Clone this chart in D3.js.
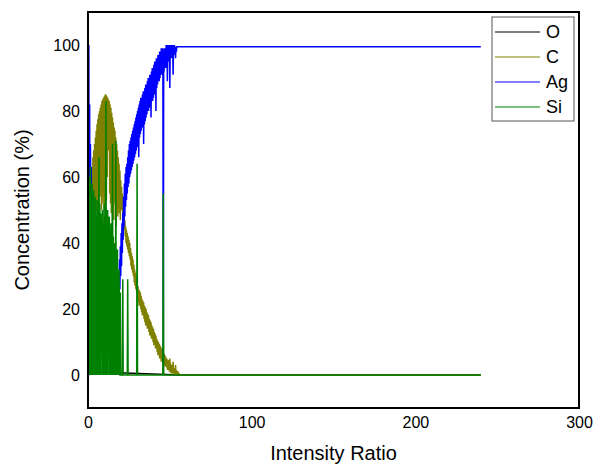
<!DOCTYPE html>
<html>
<head>
<meta charset="utf-8">
<script src="https://cdn.jsdelivr.net/npm/d3@7"></script>
<style>
  body { margin: 0; background: #fff; }
  text { font-family: "Liberation Sans", Arial, sans-serif; }
</style>
</head>
<body>
<div id="chart"></div>
<script>
// Profile values are sampled every `step` along the intensity ratio
// (x = startX + i * step); after its last sample each trace runs flat to `endX`.
const startX = 0.5;
const step = 0.25;
const endX = 240;

const seriesNames = ["O", "C", "Ag", "Si"];
const seriesColors = ["#000000", "#808000", "#0000ff", "#008000"];

const oX = [0.5, 1, 1.5, 56, 240];
const oValues = [2, 0, 1, 0, 0];

const cValues = [
  30, 12, 48, 30, 57, 40, 61, 45, 63, 48,
  66, 50, 68, 47, 70, 52, 72, 49, 74, 53,
  76, 50, 77.5, 55, 79, 51, 80, 54, 81, 56,
  82, 50, 83, 57, 83.5, 52, 84, 55, 84.5, 50,
  85, 58, 85, 53, 84.5, 60, 84, 70, 83.5, 68,
  83, 55, 82, 52, 81, 49, 79.5, 56, 78, 50,
  76.5, 47, 75, 66, 74, 52, 72, 45, 70, 50,
  68, 48, 66, 52, 64, 49, 62, 47, 59, 50,
  57, 50, 55, 48, 52.5, 46, 50, 44, 47, 42,
  45, 40, 44, 39, 43, 38, 42, 37, 41, 36,
  40, 35, 38.5, 33, 37, 32, 36, 31, 35, 30,
  33.5, 28, 32, 27, 31, 26, 30, 25, 28.5, 24,
  27, 22, 26, 21, 25.5, 21, 25, 20, 24, 19,
  23, 18, 22.5, 18, 22, 17, 21, 16, 20.5, 15,
  20, 15, 19, 14, 18.5, 14, 18, 13, 17, 12,
  16.5, 12, 16, 11, 15, 11, 14.5, 10, 14, 9,
  13, 9, 12.5, 8, 12, 8, 11, 7, 10.5, 6,
  10, 6, 9.5, 5, 9, 5, 8.5, 4, 8, 4,
  7.5, 3.5, 7, 3.5, 6.5, 3, 6, 2.5, 5.5, 2.5,
  5, 2, 4.8, 1.5, 4.5, 1.5, 4, 1, 5, 1,
  3.5, 0.5, 3, 0.5, 2.8, 0.5, 4, 0.5, 2, 0,
  2, 0, 3, 0, 1.5, 0, 1.2, 0, 1, 0,
  0.6, 0, 0.2, 0, 0
];

const agValues = [
  100, 30, 82, 24, 70, 40, 63, 20, 55, 30,
  45, 15, 35, 10, 25, 8, 22, 12, 18, 6,
  20, 10, 15, 5, 18, 8, 14, 20, 6, 12,
  8, 18, 10, 22, 7, 16, 12, 20, 9, 14,
  18, 10, 24, 12, 16, 20, 9, 18, 13, 22,
  16, 19, 24, 14, 20, 16, 22, 26, 15, 24,
  18, 22, 26, 17, 28, 20, 24, 18, 22, 26,
  15, 27, 19, 31, 22, 35, 26, 39, 30, 43,
  33, 46, 37, 49, 41, 54, 45, 58, 48, 61,
  51, 63, 53, 64, 55, 66, 57, 68, 58, 70,
  60, 71, 61, 72, 62, 73, 63, 74, 64, 75,
  65, 76, 66, 77, 67, 78, 68, 79, 69, 80,
  70, 81, 66, 82, 72, 83, 73, 84, 74, 84,
  75, 85, 75, 86, 70, 86, 76, 87, 77, 88,
  78, 88, 79, 89, 80, 90, 80, 90, 81, 91,
  82, 91, 78, 92, 83, 93, 83, 93, 84, 94,
  85, 95, 86, 95, 80, 96, 87, 96, 88, 97,
  89, 97, 89, 98, 90, 98, 91, 99, 91, 99,
  92, 99, 0, 98, 92, 99, 93, 99, 93, 100,
  94, 100, 89, 100, 95, 100, 95, 100, 87, 100,
  96, 100, 96, 100, 97, 100, 91, 99.5, 97, 100,
  97, 99.5, 96, 99.5, 98, 99.5, 99.5, 99.5, 99.5, 99.5,
  99.5, 99.5, 99.5, 99.5, 99.5
];

const siValues = [
  57, 0, 60, 0, 63, 0, 55, 0, 58, 0,
  52, 0, 56, 0, 50, 0, 54, 0, 48, 0,
  53, 0, 50, 0, 47, 66, 0, 52, 0, 49,
  40, 45, 0, 50, 0, 46, 0, 52, 0, 48,
  0, 55, 83, 0, 47, 0, 50, 38, 45, 0,
  48, 0, 44, 0, 46, 40, 0, 45, 70, 0,
  42, 0, 40, 0, 38, 0, 71, 0, 36, 0,
  38, 0, 30, 0, 32, 0, 0, 25, 0, 0,
  0, 0, 0, 29, 0, 0, 0, 0, 0, 0,
  0, 0, 0, 0, 0, 29, 0, 0, 0, 0,
  0, 0, 0, 0, 0, 0, 0, 0, 0, 0,
  0, 0, 0, 0, 0, 0, 0, 0, 64, 0,
  0, 0, 0, 0, 0, 0, 0, 0, 0, 0,
  0, 0, 0, 0, 0, 0, 0, 0, 0, 0,
  0, 0, 0, 0, 0, 0, 0, 0, 0, 0,
  0, 0, 0, 0, 0, 0, 0, 0, 0, 0,
  0, 0, 0, 0, 0, 0, 0, 0, 0, 0,
  0, 0, 0, 0, 0, 0, 0, 0, 0, 0,
  0, 0, 55, 0, 0, 0, 0, 0, 0, 0
];

const xTicks = [0, 100, 200, 300];
const yTicks = [0, 20, 40, 60, 80, 100];

// sampled profile -> [x, y] points, with the flat tail out to endX
function profile(values) {
  let pts = values.map((v, i) => [startX + i * step, v]);
  pts.push([endX, values[values.length - 1]]);
  return pts;
}

const traces = [
  oX.map((x, i) => [x, oValues[i]]),
  profile(cValues),
  profile(agValues),
  profile(siValues)
];

const W = 594, H = 466;
const margin = { top: 12, right: 15, bottom: 58, left: 88 };
const width = W - margin.left - margin.right;
const height = H - margin.top - margin.bottom;

const svg = d3.select("#chart").append("svg")
  .attr("width", W)
  .attr("height", H);

const g = svg.append("g")
  .attr("transform", "translate(" + margin.left + "," + margin.top + ")");

const x = d3.scaleLinear().domain([0, 300]).range([0, width]);
const y = d3.scaleLinear().domain([-10, 110]).range([height, 0]);

// clip so traces stay inside the frame
g.append("clipPath").attr("id", "plotclip")
  .append("rect").attr("width", width).attr("height", height);

const line = d3.line().x(d => x(d[0])).y(d => y(d[1]));

g.append("g").attr("clip-path", "url(#plotclip)")
  .selectAll("path")
  .data(traces)
  .enter()
  .append("path")
  .attr("d", line)
  .attr("fill", "none")
  .attr("stroke", (d, i) => seriesColors[i])
  .attr("stroke-width", 1.5)
  .attr("stroke-linejoin", "bevel");

// axes: labels only, no tick marks
const xAxis = g.append("g")
  .attr("transform", "translate(0," + height + ")")
  .call(d3.axisBottom(x).tickValues(xTicks).tickSize(0).tickPadding(9));
xAxis.select(".domain").remove();
xAxis.selectAll("text").style("font-size", "16px").attr("fill", "#000");

const yAxis = g.append("g")
  .call(d3.axisLeft(y).tickValues(yTicks).tickSize(0).tickPadding(8));
yAxis.select(".domain").remove();
yAxis.selectAll("text").style("font-size", "16px").attr("fill", "#000");

// frame
g.append("rect")
  .attr("width", width)
  .attr("height", height)
  .attr("fill", "none")
  .attr("stroke", "#000")
  .attr("stroke-width", 2);

// axis titles
svg.append("text")
  .attr("x", margin.left + width / 2)
  .attr("y", 460)
  .attr("text-anchor", "middle")
  .style("font-size", "20px")
  .text("Intensity Ratio");

svg.append("text")
  .attr("transform", "translate(29," + (margin.top + height / 2) + ") rotate(-90)")
  .attr("text-anchor", "middle")
  .style("font-size", "20px")
  .text("Concentration (%)");

// legend
const legend = svg.append("g").attr("transform", "translate(492,17)");
legend.append("rect")
  .attr("width", 82)
  .attr("height", 104)
  .attr("fill", "#fff")
  .attr("stroke", "#555")
  .attr("stroke-width", 1);

const rows = legend.selectAll("g.row")
  .data(seriesNames)
  .enter()
  .append("g")
  .attr("class", "row")
  .attr("transform", (d, i) => "translate(0," + (15 + i * 25) + ")");

rows.append("line")
  .attr("x1", 3).attr("x2", 48)
  .attr("stroke", (d, i) => seriesColors[i])
  .attr("stroke-width", 1);

rows.append("text")
  .attr("x", 54)
  .attr("dy", "0.35em")
  .style("font-size", "18px")
  .text(d => d);
</script>
</body>
</html>
